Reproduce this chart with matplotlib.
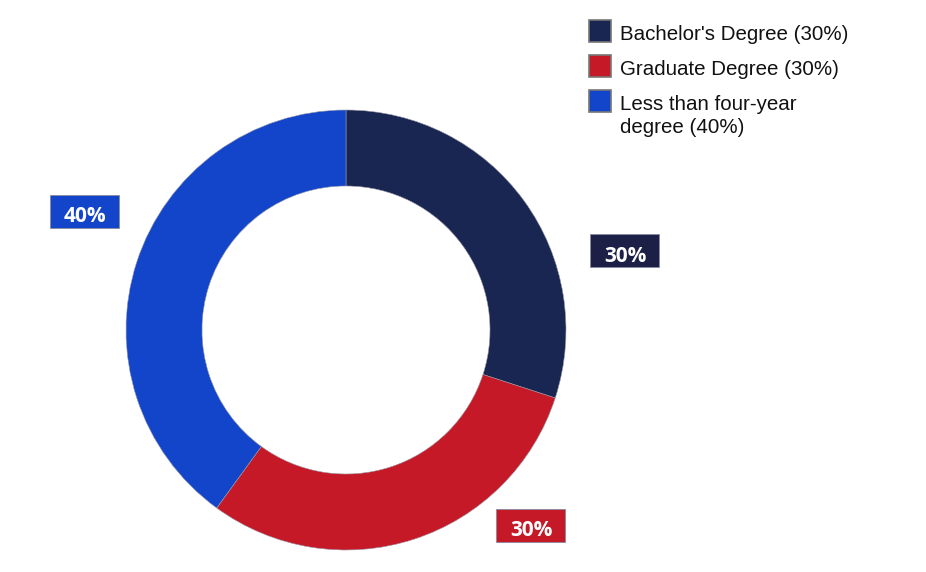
import matplotlib
matplotlib.use("Agg")
import matplotlib.pyplot as plt
from matplotlib.patches import Rectangle

categories = ["Bachelor's Degree", "Graduate Degree", "Less than four-year degree"]
legend_labels = ["Bachelor's Degree (30%)", "Graduate Degree (30%)", "Less than four-year\ndegree (40%)"]
shares = [30, 30, 40]
colors = ["#182651", "#c51927", "#1245c9"]
label_box_colors = ["#1d2046", "#c51927", "#1245c9"]

# label box centers in pixel space (x, y from top)
label_pos = [(624, 250), (530, 525), (84, 211)]

W, H = 926, 572
fig = plt.figure(figsize=(W / 100, H / 100), dpi=100)
ax = fig.add_axes([0, 0, 1, 1])

cx, cy, r = 346, H - 330, 220
wedges, _ = ax.pie(shares, colors=colors, startangle=90, counterclock=False,
                   radius=r, center=(cx, cy), frame=True,
                   wedgeprops=dict(width=76, edgecolor="#9a9aa8", linewidth=0.4))
ax.set_xlim(0, W)
ax.set_ylim(0, H)
ax.set_aspect("equal")
ax.axis("off")

for share, (lx, ly), bc in zip(shares, label_pos, label_box_colors):
    bw, bh = 69, 33
    ax.add_patch(Rectangle((lx - bw / 2, H - ly - bh / 2), bw, bh,
                           facecolor=bc, edgecolor="#8a8aa0", linewidth=0.6))
    ax.text(lx + 1, H - ly - bh / 2 + 5, f"{share}%", ha="center", va="baseline",
            color="white", fontsize=15, fontweight="bold", family="Open Sans")

# legend
for i, (lab, c) in enumerate(zip(legend_labels, colors)):
    top = 20 + i * 35
    ax.add_patch(Rectangle((589, H - top - 22), 22, 22, facecolor=c,
                           edgecolor="#777777", linewidth=1.2))
    for j, line in enumerate(lab.split("\n")):
        ax.text(620, H - top - 20 - j * 23, line, ha="left", va="baseline",
                fontsize=14.8, family="Liberation Sans", color="#111111")

fig.savefig("out.png", dpi=100, facecolor="white")
